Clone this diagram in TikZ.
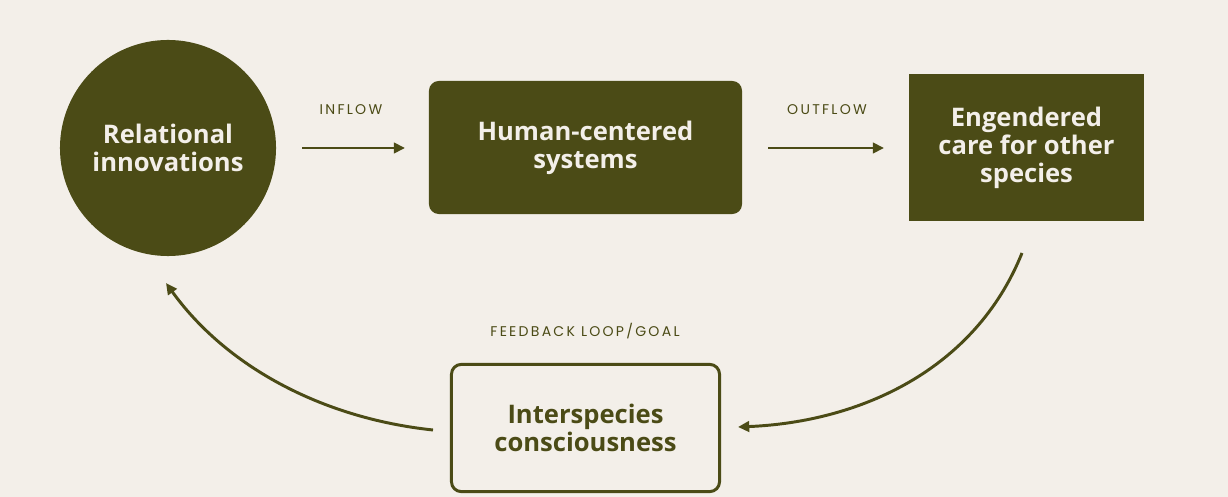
\documentclass[tikz,border=0pt]{standalone}
\usepackage{fontspec}
\setmainfont{Open Sans}
\newfontfamily\tagfont[LetterSpace=16]{Poppins}
\definecolor{paper}{RGB}{243,239,233}
\definecolor{olive}{RGB}{75,75,22}
\usetikzlibrary{arrows.meta, positioning, calc, shapes}

\begin{document}
\begin{tikzpicture}[
  x=0.025cm, y=-0.025cm,
  stage/.style={fill=olive, text=paper, align=center,
                font=\bfseries\fontsize{18.2}{20}\selectfont, inner sep=0pt},
  goalbox/.style={draw=olive, line width=2.1pt, rounded corners=7pt, text=olive,
                  align=center, font=\bfseries\fontsize{18.2}{20}\selectfont,
                  minimum width=6.7cm, minimum height=3.18cm},
  tag/.style={font=\tagfont\fontsize{10}{12}\selectfont, text=olive},
  arr/.style={-{Triangle[length=8pt, width=7.5pt]}, line width=2.1pt, olive}
]
\fill[paper] (0,0) rectangle (1228,497);
\useasboundingbox (0,0) rectangle (1228,497);

\node[stage, circle, minimum size=5.4cm] (rel) at (168,148) {Relational\\innovations};
\node[stage, rounded corners=7pt, minimum width=7.825cm, minimum height=3.325cm]
  (hum) at (585.5,147.5) {Human-centered\\systems};
\node[stage, minimum width=5.875cm, minimum height=3.675cm]
  (care) at (1026.5,147.5) {Engendered\\care for other\\species};
\node[goalbox] (inter) at (585.5,428) {Interspecies\\consciousness};

% flow labels
\node[tag] (inlbl) at (351,110) {INFLOW};
\node[tag] (outlbl) at (827,110) {OUTFLOW};
\node[tag] (fblbl) at (585,331) {FEEDBACK LOOP/GOAL};

\coordinate (inA) at (302,148);
\coordinate (inB) at (405,148);
\coordinate (outA) at (768,148);
\coordinate (outB) at (884,148);
\coordinate (fbA) at (1022,253);
\coordinate (fbB) at (738,427);
\coordinate (bkA) at (433,430);
\coordinate (bkB) at (166,283);

\draw[arr] (inA) -- (inB);
\draw[arr] (outA) -- (outB);
\draw[arr] (fbA) .. controls (975,370) and (860,422) .. (fbB);
\draw[arr] (bkA) .. controls (320,418) and (225,365) .. (bkB);
\end{tikzpicture}
\end{document}
